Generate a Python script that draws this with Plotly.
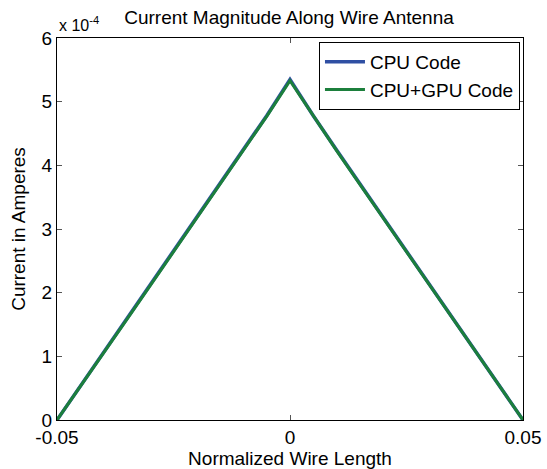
import plotly.graph_objects as go

# Normalized wire length positions
x_pos = [-0.05, -0.045, -0.04, -0.035, -0.03, -0.025, -0.02, -0.015, -0.01, -0.005, 0.0,
         0.005, 0.01, 0.015, 0.02, 0.025, 0.03, 0.035, 0.04, 0.045, 0.05]
# Current magnitude (units of 1e-4 A)
cpu_current = [0.0, 0.53, 1.06, 1.59, 2.12, 2.65, 3.18, 3.71, 4.24, 4.78, 5.35,
               4.78, 4.24, 3.71, 3.18, 2.65, 2.12, 1.59, 1.06, 0.53, 0.0]
gpu_current = [0.0, 0.52, 1.05, 1.58, 2.11, 2.64, 3.17, 3.70, 4.23, 4.77, 5.33,
               4.77, 4.23, 3.70, 3.17, 2.64, 2.11, 1.58, 1.05, 0.52, 0.0]
y_ticks = [0, 1, 2, 3, 4, 5, 6]
x_ticks = [-0.05, 0, 0.05]
x_tick_labels = ["-0.05", "0", "0.05"]

FONT = "Liberation Sans, Arial, sans-serif"

fig = go.Figure()
fig.add_trace(go.Scatter(x=x_pos, y=cpu_current, mode="lines", name="CPU Code",
                         line=dict(color="#2F4FA3", width=3.5)))
fig.add_trace(go.Scatter(x=x_pos, y=gpu_current, mode="lines", name="CPU+GPU Code",
                         line=dict(color="#1C7F3C", width=3)))

fig.update_layout(
    width=547, height=469,
    margin=dict(l=57, r=24, t=38, b=49),
    paper_bgcolor="white", plot_bgcolor="white",
    font=dict(family=FONT, size=19, color="black"),
    title=dict(text="Current Magnitude Along Wire Antenna", x=289 / 547,
               xanchor="center", y=1 - 17 / 469, yanchor="middle",
               font=dict(size=19, family=FONT, color="black")),
    showlegend=True,
    legend=dict(x=0.9935, y=0.9895, xanchor="right", yanchor="top",
                bordercolor="black", borderwidth=1, bgcolor="white",
                font=dict(size=19, family=FONT), tracegroupgap=0,
                itemwidth=40),
    xaxis=dict(range=[-0.05, 0.05], tickvals=x_ticks, ticktext=x_tick_labels,
               ticks="inside", ticklen=5, tickcolor="#555", showline=True,
               linecolor="black", linewidth=1, mirror="allticks", showgrid=False,
               zeroline=False, tickfont=dict(size=19), automargin=False,
               title=dict(text="Normalized Wire Length", standoff=2,
                          font=dict(size=19))),
    yaxis=dict(range=[0, 6], tickvals=y_ticks, ticktext=[str(v) for v in y_ticks],
               ticks="inside", ticklen=5, tickcolor="#555", showline=True,
               linecolor="black", linewidth=1, mirror="allticks", showgrid=False,
               zeroline=False, tickfont=dict(size=19), automargin=False,
               title=dict(text="Current in Amperes", standoff=10,
                          font=dict(size=19))),
    annotations=[dict(text="x 10<sup>-4</sup>", x=0, y=1, xref="paper", yref="paper",
                      xanchor="left", yanchor="bottom", showarrow=False, yshift=2,
                      font=dict(size=16, family=FONT))],
)

fig.write_html("out.html")
